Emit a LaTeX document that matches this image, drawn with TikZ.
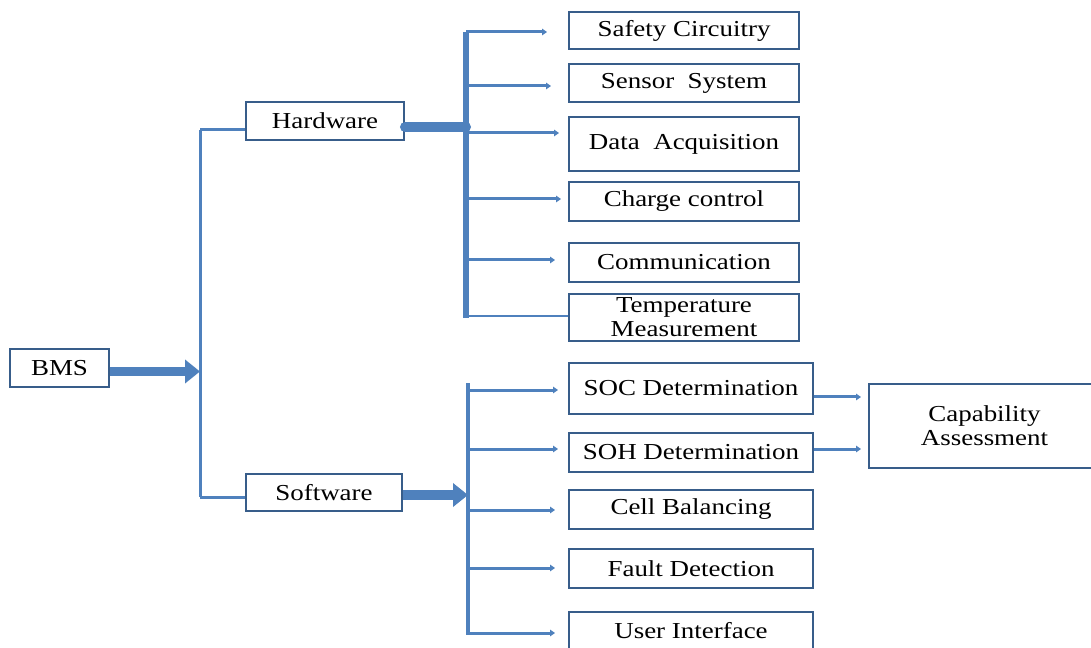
\documentclass[tikz,border=0pt]{standalone}
\usepackage{fontspec}
\setmainfont{Liberation Serif}[FakeStretch=1.18]
\usetikzlibrary{arrows.meta,calc}
\definecolor{lineblue}{RGB}{79,129,189}
\definecolor{boxblue}{RGB}{56,93,138}
\begin{document}
\begin{tikzpicture}[x=0.02cm,y=-0.02cm,
  box/.style={draw=boxblue, line width=0.04cm, fill=white, inner sep=0pt, align=center,
    font=\fontsize{13}{13.6}\selectfont},
  branch/.style={draw=lineblue, line width=0.06cm, -{Triangle[length=0.1cm,width=0.13cm]}},
  bus/.style={draw=lineblue, line width=0.06cm},
  bigarrow/.style={draw=lineblue, line width=0.2cm, -{Triangle[length=0.3cm,width=0.46cm]}},
  thickbar/.style={draw=lineblue, line width=0.2cm, line cap=round}]
\useasboundingbox (0,0) rectangle (1091,648);
\clip (0,0) rectangle (1091,648);
\fill[white] (0,0) rectangle (1091,648);

% nodes
\node[box, minimum width=1.98cm, minimum height=0.76cm] (bms) at (59.5,368) {BMS};
\node[box, minimum width=3.16cm, minimum height=0.76cm] (hw) at (325,121) {Hardware};
\node[box, minimum width=3.12cm, minimum height=0.74cm] (sw) at (324,492.5) {Software};

\node[box, minimum width=4.6cm, minimum height=0.74cm] (safety) at (684,30.5) {Safety Circuitry};
\node[box, minimum width=4.6cm, minimum height=0.76cm] (sensor) at (684,83) {Sensor\ \ System};
\node[box, minimum width=4.6cm, minimum height=1.08cm] (data) at (684,144) {Data\ \ Acquisition};
\node[box, minimum width=4.6cm, minimum height=0.78cm] (charge) at (684,201.5) {Charge control};
\node[box, minimum width=4.6cm, minimum height=0.78cm] (comm) at (684,262.5) {Communication};
\node[box, minimum width=4.6cm, minimum height=0.94cm] (temp) at (684,317.5) {Temperature\\Measurement};

\node[box, minimum width=4.88cm, minimum height=1.02cm] (soc) at (691,388.5) {SOC Determination};
\node[box, minimum width=4.88cm, minimum height=0.78cm] (soh) at (691,452.5) {SOH Determination};
\node[box, minimum width=4.88cm, minimum height=0.78cm] (cell) at (691,509.5) {Cell Balancing};
\node[box, minimum width=4.88cm, minimum height=0.78cm] (fault) at (691,568.5) {Fault Detection};
\node[box, minimum width=4.88cm, minimum height=0.76cm] (user) at (691,631) {User Interface};

\node[box, minimum width=4.62cm, minimum height=1.68cm] (cap) at (984.5,426) {Capability\\Assessment};

% left bus
\coordinate (lt) at (200,130);
\coordinate (lb) at (200,497);
\draw[bus] (lt) -- (lb);
\draw[bus] (lt) -- (lt -| hw.west);
\draw[bus] (lb) -- (lb -| sw.west);
\coordinate (bmsA) at ([yshift=-0.07cm]bms.east);
\draw[bigarrow] (bmsA) -- (bmsA -| lt);

% hardware bus
\coordinate (ht) at (466,32);
\coordinate (hb) at (466,318);
\draw[draw=lineblue, line width=0.12cm] (ht) -- (hb);
\coordinate (hwA) at ([yshift=-0.12cm]hw.east);
\draw[thickbar] (hwA) -- (hwA -| ht);
\coordinate (h1) at (466,32);
\coordinate (h2) at (466,86);
\coordinate (h3) at (466,133);
\coordinate (h4) at (466,199);
\coordinate (h5) at (466,260);
\coordinate (h6) at (466,316);
\draw[branch, shorten >=0.42cm] (h1) -- (h1 -| safety.west);
\draw[branch, shorten >=0.34cm] (h2) -- (h2 -| sensor.west);
\draw[branch, shorten >=0.18cm] (h3) -- (h3 -| data.west);
\draw[branch, shorten >=0.14cm] (h4) -- (h4 -| charge.west);
\draw[branch, shorten >=0.26cm] (h5) -- (h5 -| comm.west);
\draw[bus] (h6) -- (h6 -| temp.west);

% software bus
\coordinate (st) at (468,383);
\coordinate (sb) at (468,633);
\draw[draw=lineblue, line width=0.07cm] (st) -- (sb);
\coordinate (swA) at ([yshift=-0.05cm]sw.east);
\draw[bigarrow] (swA) -- (swA -| st);
\coordinate (s1) at (468,390);
\coordinate (s2) at (468,449);
\coordinate (s3) at (468,510);
\coordinate (s4) at (468,568);
\coordinate (s5) at (466,633);
\draw[branch, shorten >=0.2cm] (s1) -- (s1 -| soc.west);
\draw[branch, shorten >=0.2cm] (s2) -- (s2 -| soh.west);
\draw[branch, shorten >=0.26cm] (s3) -- (s3 -| cell.west);
\draw[branch, shorten >=0.26cm] (s4) -- (s4 -| fault.west);
\draw[branch, shorten >=0.26cm] (s5) -- (s5 -| user.west);

% capability
\coordinate (c1) at ([yshift=-0.17cm]soc.east);
\coordinate (c2) at ([yshift=0.07cm]soh.east);
\draw[branch, shorten >=0.14cm] (c1) -- (c1 -| cap.west);
\draw[branch, shorten >=0.14cm] (c2) -- (c2 -| cap.west);
\end{tikzpicture}
\end{document}
